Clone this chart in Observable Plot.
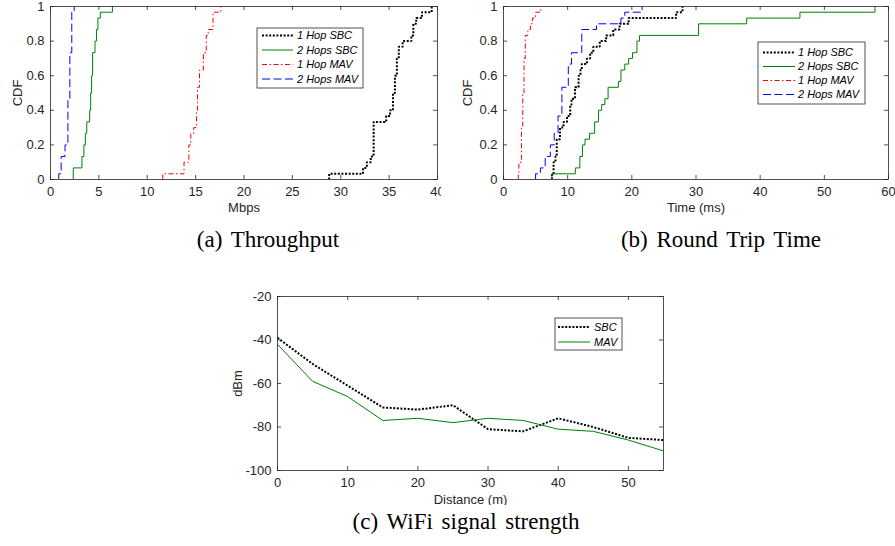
<!DOCTYPE html>
<html><head><meta charset="utf-8">
<script src="https://cdn.jsdelivr.net/npm/d3@7"></script>
<script src="https://cdn.jsdelivr.net/npm/@observablehq/plot@0.6"></script>
<style>
body{margin:0;background:#fff;}
#fig{position:relative;width:895px;height:546px;overflow:hidden;background:#fff;}
.panel{position:absolute;overflow:hidden;}
.panel svg{max-width:none !important;}
.cap{position:absolute;font-family:"Liberation Serif","Times New Roman",serif;font-size:23px;color:#000;transform:translate(-50%,-50%);white-space:nowrap;word-spacing:3px;}
</style></head><body><div id="fig"></div>
<script>
// ---------- DATA ----------
// (a) Throughput CDF (Mbps) — step points [x, cumulative fraction]
const tp1HopSBCx = [28.8,28.8,32.3,32.7,33.1,33.4,34.7,35.1,35.4,35.6,35.8,36.0,36.4,37.3,37.5,37.8,38.4,39.4];
const tp1HopSBCy = [0,0.033,0.067,0.1,0.133,0.333,0.367,0.4,0.5,0.6,0.7,0.767,0.8,0.833,0.9,0.933,0.967,1];
const tp2HopsSBCx = [2.35,2.35,3.25,3.45,3.6,3.75,4.05,4.15,4.25,4.35,4.6,4.75,4.9,5.15,6.4];
const tp2HopsSBCy = [0,0.067,0.133,0.2,0.267,0.333,0.4,0.5,0.6,0.733,0.8,0.867,0.933,0.967,1];
const tp1HopMAVx = [11.6,11.6,13.8,14.3,14.5,14.8,15.1,15.2,15.4,15.8,16.1,16.3,16.8,17.6];
const tp1HopMAVy = [0,0.033,0.1,0.2,0.267,0.3,0.4,0.533,0.633,0.733,0.833,0.867,0.967,1];
const tp2HopsMAVx = [0.85,0.85,1.1,1.5,1.8,2.0,2.2,2.45];
const tp2HopsMAVy = [0,0.033,0.133,0.2,0.467,0.733,0.967,1];

// (b) Round trip time CDF (ms)
const rtt1HopSBCx = [7.55,7.55,7.8,8.1,8.3,8.8,9.35,9.9,10.4,10.6,11.15,11.7,12.0,12.2,13.0,13.5,14.0,15.0,16.0,17.1,18.1,19.5,26.9,27.9];
const rtt1HopSBCy = [0,0.033,0.1,0.133,0.233,0.3,0.333,0.367,0.433,0.467,0.533,0.6,0.633,0.667,0.7,0.733,0.767,0.8,0.833,0.867,0.9,0.933,0.967,1];
const rtt2HopsSBCx = [7.55,7.55,11.2,11.9,12.3,12.7,13.4,14.2,14.8,15.3,15.8,16.3,17.9,18.3,18.9,19.5,20.1,20.8,21.2,30.4,37.9,46.2,57.9];
const rtt2HopsSBCy = [0,0.033,0.067,0.133,0.2,0.233,0.267,0.333,0.4,0.433,0.467,0.533,0.567,0.633,0.667,0.7,0.733,0.8,0.833,0.9,0.933,0.967,1];
const rtt1HopMAVx = [2.3,2.3,2.4,2.8,3.0,3.2,3.4,3.8,4.2,4.5,5.0,5.8];
const rtt1HopMAVy = [0,0.033,0.1,0.3,0.5,0.7,0.833,0.867,0.9,0.933,0.967,1];
const rtt2HopsMAVx = [5.0,5.0,5.75,6.5,7.3,7.9,8.5,9.1,10.1,10.6,12.2,14.5,18.3,18.9,21.6];
const rtt2HopsMAVy = [0,0.033,0.067,0.133,0.2,0.267,0.367,0.533,0.667,0.733,0.867,0.9,0.933,0.967,1];

// (c) WiFi signal strength (dBm) vs distance (m)
const distance = [0,5,10,15,20,25,30,35,40,45,50,55];
const rssiSBC = [-39,-51,-61,-71,-72,-70,-81,-82,-76,-80,-85,-86];
const rssiMAV = [-42,-59,-66,-77,-76,-78,-76,-77,-81,-82,-86,-91];

// tick values / labels
const cdfTicks = [0,0.2,0.4,0.6,0.8,1];
const tpTicks = [0,5,10,15,20,25,30,35,40];
const rttTicks = [0,10,20,30,40,50,60];
const distTicks = [0,10,20,30,40,50];
const dbmTicks = [-100,-80,-60,-40,-20];
const cdfNames = ["1 Hop SBC","2 Hops SBC","1 Hop MAV","2 Hops MAV"];
const sigNames = ["SBC","MAV"];
const captions = ["(a) Throughput","(b) Round Trip Time","(c) WiFi signal strength"];

// ---------- STYLE ----------
const FONT = "'Liberation Sans', Arial, Helvetica, sans-serif";
const AXIS = "#262626";
const sty = {
  "1 Hop SBC": {stroke:"#000000", width:2, dash:"2,1.6"},
  "2 Hops SBC": {stroke:"#008000", width:1, dash:null},
  "1 Hop MAV": {stroke:"#ff0000", width:1, dash:"5,2.5,1.5,2.5"},
  "2 Hops MAV": {stroke:"#0000ff", width:1, dash:"8,3.5"},
  "SBC": {stroke:"#000000", width:2, dash:"2,1.6"},
  "MAV": {stroke:"#008000", width:1, dash:null}
};

const fig = document.getElementById("fig");

function chart(cfg) {
  const {left, top, clipW, width, height, ml, mr, mt, mb, series, xDomain, yDomain, xTicks, yTicks,
         xLabel, yLabel, xLabelOffset, yLabelOffset, curve, legend} = cfg;
  const innerW = width - ml - mr, innerH = height - mt - mb;
  const fmt = d => String(+d.toFixed(6));
  const marks = [];
  for (const s of series) {
    const st = sty[s.name];
    const rows = s.x.map((x, i) => ({x, y: s.y[i]}));
    marks.push(Plot.line(rows, {x: "x", y: "y", curve, stroke: st.stroke, strokeWidth: st.width,
      strokeDasharray: st.dash, strokeLinecap: "butt", strokeLinejoin: "miter", clip: true}));
  }
  // inward ticks on all four sides
  marks.push(Plot.tickX(xTicks, {x: d => d, insetTop: innerH - 4, stroke: AXIS, strokeWidth: 0.8}));
  marks.push(Plot.tickX(xTicks, {x: d => d, insetBottom: innerH - 4, stroke: AXIS, strokeWidth: 0.8}));
  marks.push(Plot.tickY(yTicks, {y: d => d, insetRight: innerW - 4, stroke: AXIS, strokeWidth: 0.8}));
  marks.push(Plot.tickY(yTicks, {y: d => d, insetLeft: innerW - 4, stroke: AXIS, strokeWidth: 0.8}));
  marks.push(Plot.frame({stroke: AXIS, strokeWidth: 0.8}));
  marks.push(Plot.axisX(xTicks, {tickSize: 0, tickPadding: 7, tickFormat: fmt, label: xLabel,
    labelAnchor: "center", labelOffset: xLabelOffset, labelArrow: "none", fill: AXIS}));
  marks.push(Plot.axisY(yTicks, {tickSize: 0, tickPadding: 6, tickFormat: fmt, label: yLabel,
    labelAnchor: "center", labelOffset: yLabelOffset, labelArrow: "none", fill: AXIS}));
  const svg = Plot.plot({
    width, height, marginLeft: ml, marginRight: mr, marginTop: mt, marginBottom: mb,
    style: {fontFamily: FONT, fontSize: "13px", color: AXIS, background: "transparent", overflow: "visible", maxWidth: "none"},
    x: {domain: xDomain},
    y: {domain: yDomain},
    marks
  });
  svg.style.maxWidth = "none";
  // legend box (MATLAB-style)
  const g = d3.select(svg).append("g").attr("text-anchor", "start");
  g.append("rect").attr("x", legend.x).attr("y", legend.y).attr("width", legend.w).attr("height", legend.h)
    .attr("fill", "#fff").attr("stroke", AXIS).attr("stroke-width", 0.8);
  legend.names.forEach((n, i) => {
    const st = sty[n];
    const yy = legend.y + legend.first + i * legend.step;
    g.append("line").attr("x1", legend.x + legend.l1).attr("x2", legend.x + legend.l2)
      .attr("y1", yy).attr("y2", yy).attr("stroke", st.stroke).attr("stroke-width", st.width)
      .attr("stroke-dasharray", st.dash);
    g.append("text").attr("x", legend.x + legend.tx).attr("y", yy).attr("dy", "0.35em")
      .attr("text-anchor", "start")
      .attr("font-family", FONT).attr("font-size", 11).attr("font-style", "italic").attr("fill", "#000")
      .text(n);
  });
  const div = document.createElement("div");
  div.className = "panel";
  div.style.left = left + "px"; div.style.top = top + "px";
  div.style.width = clipW + "px"; div.style.height = height + "px";
  div.appendChild(svg);
  fig.appendChild(div);
}

const mk = (names, xs, ys) => names.map((name, i) => ({name, x: xs[i], y: ys[i]}));

chart({
  left: 0, top: 0, clipW: 441, width: 450, height: 230, ml: 50, mr: 13, mt: 6, mb: 51,
  series: mk(cdfNames, [tp1HopSBCx, tp2HopsSBCx, tp1HopMAVx, tp2HopsMAVx], [tp1HopSBCy, tp2HopsSBCy, tp1HopMAVy, tp2HopsMAVy]),
  xDomain: [0, 40], yDomain: [0, 1], xTicks: tpTicks, yTicks: cdfTicks,
  xLabel: "Mbps", yLabel: "CDF", xLabelOffset: 32, yLabelOffset: 38, curve: "step-after",
  legend: {x: 257, y: 28, w: 106, h: 60, names: cdfNames, first: 7.5, step: 14.5, l1: 5, l2: 36, tx: 40}
});

chart({
  left: 450, top: 0, clipW: 445, width: 445, height: 230, ml: 53, mr: 7, mt: 6, mb: 51,
  series: mk(cdfNames, [rtt1HopSBCx, rtt2HopsSBCx, rtt1HopMAVx, rtt2HopsMAVx], [rtt1HopSBCy, rtt2HopsSBCy, rtt1HopMAVy, rtt2HopsMAVy]),
  xDomain: [0, 60], yDomain: [0, 1], xTicks: rttTicks, yTicks: cdfTicks,
  xLabel: "Time (ms)", yLabel: "CDF", xLabelOffset: 32, yLabelOffset: 41, curve: "step-after",
  legend: {x: 308, y: 42, w: 107, h: 62, names: cdfNames, first: 10.5, step: 14, l1: 5, l2: 37, tx: 40}
});

chart({
  left: 230, top: 280, clipW: 440, width: 440, height: 225, ml: 47, mr: 7, mt: 16, mb: 35,
  series: mk(sigNames, [distance, distance], [rssiSBC, rssiMAV]),
  xDomain: [0, 55], yDomain: [-100, -20], xTicks: distTicks, yTicks: dbmTicks,
  xLabel: "Distance (m)", yLabel: "dBm", xLabelOffset: 33, yLabelOffset: 45, curve: "linear",
  legend: {x: 325, y: 38, w: 67, h: 32, names: sigNames, first: 9, step: 15, l1: 3, l2: 35, tx: 39}
});

const capPos = [[268, 240], [721, 240], [466, 522]];
captions.forEach((c, i) => {
  const d = document.createElement("div");
  d.className = "cap";
  d.style.left = capPos[i][0] + "px"; d.style.top = capPos[i][1] + "px";
  d.textContent = c;
  fig.appendChild(d);
});
</script>
</body></html>
